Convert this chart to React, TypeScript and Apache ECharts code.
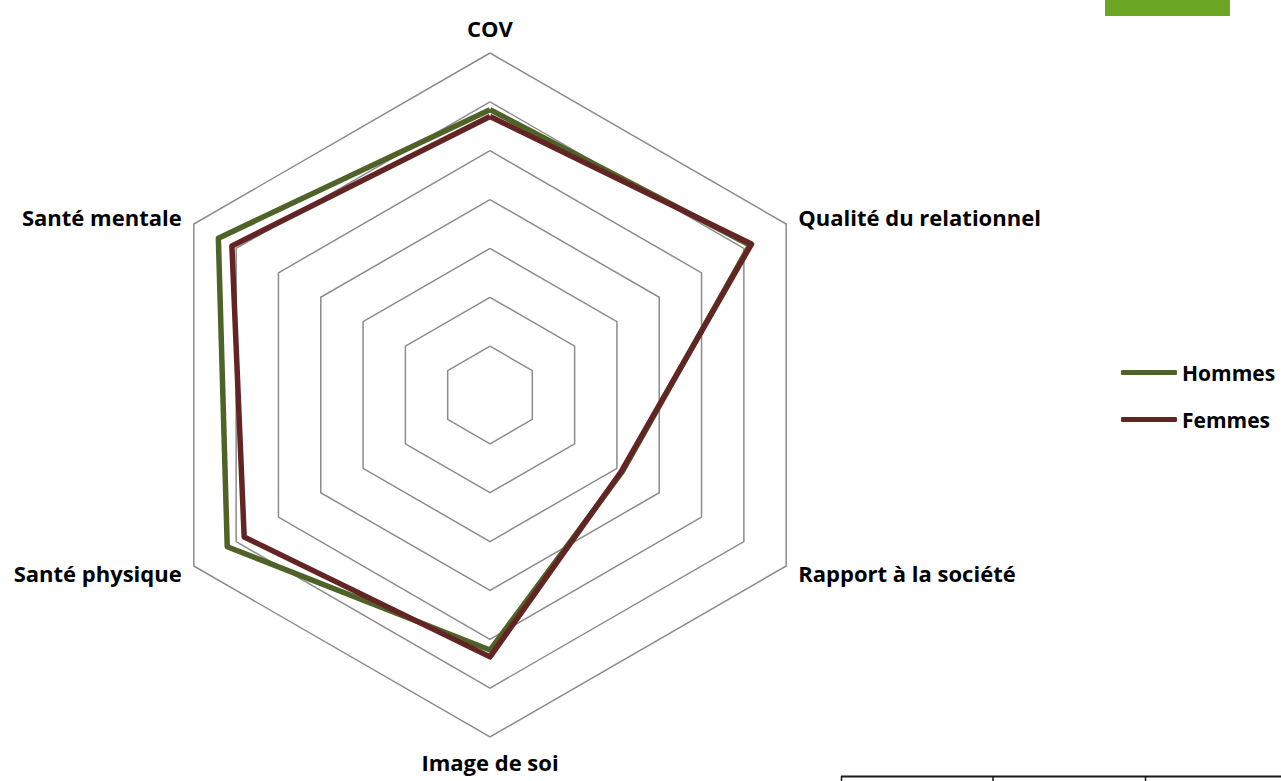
import React, { useEffect, useRef } from "react";
import * as echarts from "echarts";

// Indicators listed counter-clockwise starting from the top (ECharts order)
const indicators = [
  "COV",
  "Santé mentale",
  "Santé physique",
  "Image de soi",
  "Rapport à la société",
  "Qualité du relationnel",
];
const axisMax = 70;
const seriesNames = ["Hommes", "Femmes"];
const hommes = [58.4, 64.2, 62.1, 52.2, 31.3, 61.4];
const femmes = [57.0, 61.0, 58.1, 53.6, 31.1, 61.8];

const GREEN = "#4f6228";
const RED = "#632523";
const FONT = "'Open Sans', 'DejaVu Sans', sans-serif";

export default function App() {
  const ref = useRef<HTMLDivElement>(null);
  useEffect(() => {
    if (!ref.current) return;
    const chart = echarts.init(ref.current, undefined, { renderer: "svg" });
    chart.setOption({
      animation: false,
      backgroundColor: "#ffffff",
      legend: {
        orient: "vertical",
        left: 1116,
        top: 357,
        itemWidth: 56,
        itemHeight: 5,
        itemGap: 26,
        icon: "roundRect",
        selectedMode: false,
        textStyle: {
          fontFamily: FONT,
          fontWeight: "bold",
          fontSize: 21,
          color: "#000000",
        },
        data: seriesNames,
      },
      radar: {
        center: [490, 395],
        radius: 342,
        startAngle: 90,
        splitNumber: 7,
        shape: "polygon",
        indicator: indicators.map((n) => ({ name: n, max: axisMax, min: 0 })),
        axisName: {
          color: "#000000",
          fontFamily: FONT,
          fontWeight: "bold",
          fontSize: 22,
        },
        nameGap: 14,
        axisLine: { show: false },
        axisTick: { show: false },
        axisLabel: { show: false },
        splitArea: { show: false },
        splitLine: { lineStyle: { color: "#8c8c8c", width: 1.5 } },
      },
      series: [
        {
          type: "radar",
          symbol: "none",
          data: [
            {
              name: seriesNames[0],
              value: hommes,
              lineStyle: { color: GREEN, width: 5.5 },
              itemStyle: { color: GREEN },
            },
            {
              name: seriesNames[1],
              value: femmes,
              lineStyle: { color: RED, width: 5.5 },
              itemStyle: { color: RED },
            },
          ],
        },
      ],
      graphic: [
        {
          type: "rect",
          shape: { x: 1105, y: 0, width: 125, height: 16 },
          style: { fill: "#6aa621" },
        },
        {
          type: "line",
          shape: { x1: 841, y1: 776.5, x2: 1281, y2: 776.5 },
          style: { stroke: "#1a1a1a", lineWidth: 2 },
        },
        {
          type: "line",
          shape: { x1: 841.5, y1: 776, x2: 841.5, y2: 781 },
          style: { stroke: "#1a1a1a", lineWidth: 1.5 },
        },
        {
          type: "line",
          shape: { x1: 993, y1: 776, x2: 993, y2: 781 },
          style: { stroke: "#1a1a1a", lineWidth: 1.5 },
        },
        {
          type: "line",
          shape: { x1: 1145.5, y1: 776, x2: 1145.5, y2: 781 },
          style: { stroke: "#1a1a1a", lineWidth: 1.5 },
        },
      ],
    });
    return () => chart.dispose();
  }, []);
  return (
    <div
      ref={ref}
      style={{ position: "fixed", left: 0, top: 0, width: 1281, height: 781 }}
    />
  );
}
